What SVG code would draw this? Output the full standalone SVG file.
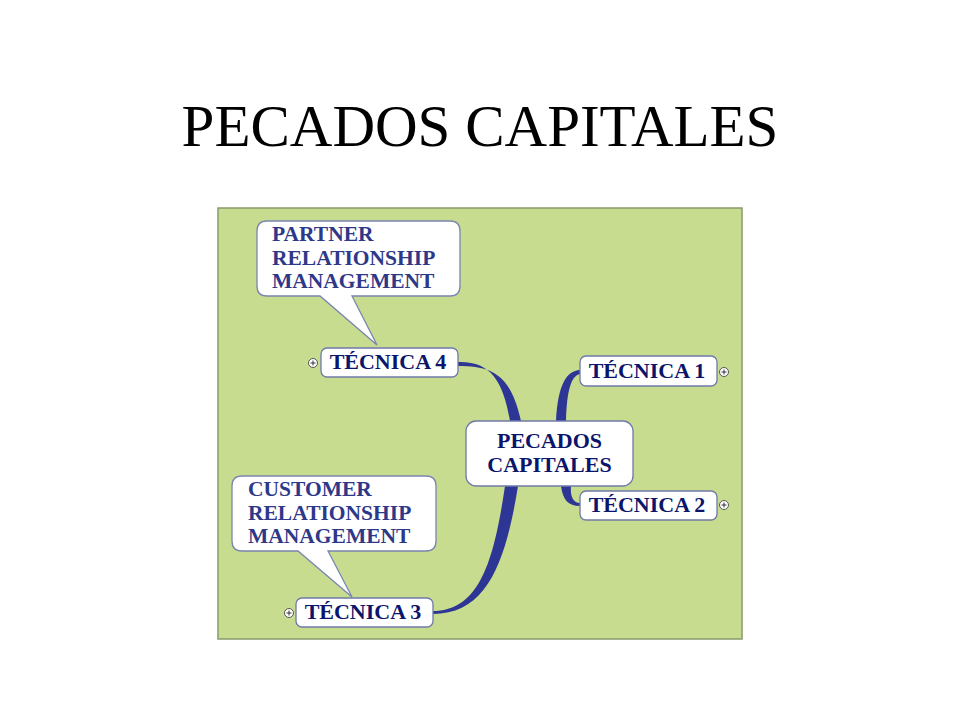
<svg xmlns="http://www.w3.org/2000/svg" width="960" height="720" viewBox="0 0 960 720">
<style>
.title{font-family:"Liberation Serif","Times New Roman",serif;font-size:59px;fill:#000}
.node rect{fill:#fff;stroke:#6f7aa8;stroke-width:1.3}
.ntx{font-family:"Liberation Serif","Times New Roman",serif;font-weight:bold;font-size:22px;fill:#0b156b}
.call path{fill:#fff;stroke:#7a85b0;stroke-width:1.3}
.ctx{font-family:"Liberation Serif","Times New Roman",serif;font-weight:bold;font-size:21.5px;fill:#2e3889}
.plus circle{fill:#fff;stroke:#555;stroke-width:1}
.plus path{stroke:#333;stroke-width:1}
.br{fill:#2d3595}
</style>
<rect width="960" height="720" fill="#fff"/>
<text class="title" x="480" y="146" text-anchor="middle">PECADOS CAPITALES</text>
<rect x="218" y="208" width="524" height="431" fill="#c7dc8f" stroke="#8a9a6c" stroke-width="1.5"/>
<g id="connectors">
<path class="br" d="M458,362 C490,361 503,380 510,421 L521,421 C511,376 494,366 458,366 Z"/>
<path class="br" d="M580,370 C566,371 558,385 556,421 L566,421 C567,390 571,376 580,374 Z"/>
<path class="br" d="M561,486 C563,500 568,506 580,506 L580,503 C573,503 570,496 571,486 Z"/>
<path class="br" d="M505,486 C494,560 480,611 433,611 L433,614 C488,614 506,560 518,486 Z"/>
</g>
<g id="prm" class="call">
<path d="M267,221 H450 Q460,221 460,231 V286 Q460,296 450,296 H352 L377,345 L320,296 H267 Q257,296 257,286 V231 Q257,221 267,221 Z"/>
<text class="ctx" x="272" y="241">PARTNER</text>
<text class="ctx" x="272" y="265">RELATIONSHIP</text>
<text class="ctx" x="272" y="288">MANAGEMENT</text>
</g>
<g id="crm" class="call">
<path d="M242,476 H426 Q436,476 436,486 V541 Q436,551 426,551 H328 L352,597 L298,551 H242 Q232,551 232,541 V486 Q232,476 242,476 Z"/>
<text class="ctx" x="248" y="496">CUSTOMER</text>
<text class="ctx" x="248" y="520">RELATIONSHIP</text>
<text class="ctx" x="248" y="543">MANAGEMENT</text>
</g>
<g id="center" class="node">
<rect x="466" y="421" width="167" height="65" rx="10"/>
<text class="ntx" x="549.500" y="448" text-anchor="middle">PECADOS</text>
<text class="ntx" x="549.500" y="472" text-anchor="middle">CAPITALES</text>
</g>
<g id="t4" class="node">
<rect x="321" y="348" width="137" height="29" rx="6"/>
<text class="ntx" x="388" y="369" text-anchor="middle">TÉCNICA 4</text>
<g class="plus"><circle cx="313" cy="363" r="4.500"/><path d="M310.500,363H315.500M313,360.500V365.500"/></g>
</g>
<g id="t1" class="node">
<rect x="580" y="356" width="137" height="30" rx="6"/>
<text class="ntx" x="647" y="378" text-anchor="middle">TÉCNICA 1</text>
<g class="plus"><circle cx="724" cy="372" r="4.500"/><path d="M721.500,372H726.500M724,369.500V374.500"/></g>
</g>
<g id="t2" class="node">
<rect x="580" y="491" width="137" height="29" rx="6"/>
<text class="ntx" x="647" y="512" text-anchor="middle">TÉCNICA 2</text>
<g class="plus"><circle cx="724" cy="505" r="4.500"/><path d="M721.500,505H726.500M724,502.500V507.500"/></g>
</g>
<g id="t3" class="node">
<rect x="296" y="598" width="137" height="29" rx="6"/>
<text class="ntx" x="363" y="619" text-anchor="middle">TÉCNICA 3</text>
<g class="plus"><circle cx="289" cy="613" r="4.500"/><path d="M286.500,613H291.500M289,610.500V615.500"/></g>
</g>
</svg>
